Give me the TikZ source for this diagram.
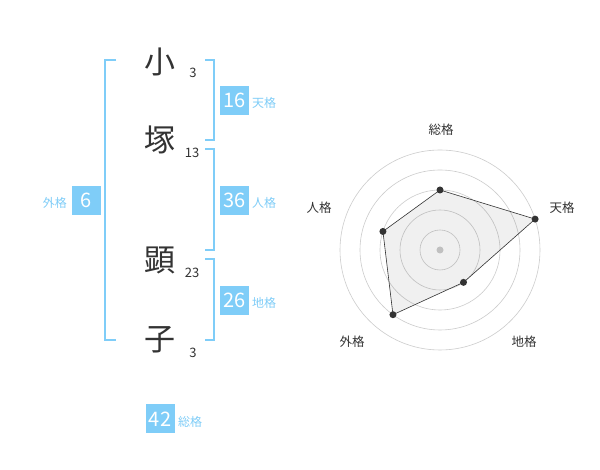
\documentclass[tikz,border=0pt]{standalone}
\usepackage{fontspec}
\setmainfont{Noto Sans CJK JP}
\usepackage{xcolor}
\usetikzlibrary{calc}

\definecolor{kakublue}{HTML}{7FCDF8}
\definecolor{inkgray}{HTML}{333333}
\definecolor{ringgray}{HTML}{CCCCCC}

\tikzset{
  kanji/.style={text=inkgray,font=\fontsize{31}{31}\selectfont,inner sep=0pt},
  kakusu/.style={text=inkgray,font=\fontsize{13}{13}\selectfont,inner sep=0pt},
  kakubox/.style={fill=kakublue,text=white,minimum size=29pt,inner sep=0pt,font=\fontsize{20}{20}\selectfont},
  kakuname/.style={text=kakublue,font=\fontsize{12}{12}\selectfont,inner sep=0pt},
  bracket/.style={draw=kakublue,line width=1.6pt},
  ring/.style={draw=ringgray,line width=0.6pt},
  radarname/.style={text=inkgray,font=\fontsize{12.5}{12.5}\selectfont,inner sep=0pt},
  dot/.style={circle,fill=inkgray,minimum size=7pt,inner sep=0pt}
}

\begin{document}
\begin{tikzpicture}[x=1pt,y=1pt]
            \useasboundingbox[fill=white] (0,0) rectangle (600,470);

            % name
            \node[kanji] (k1) at (160,408) {小};
            \node[kanji] (k2) at (160,330) {塚};
            \node[kanji] (k3) at (160,210) {顕};
            \node[kanji] (k4) at (160,130) {子};
            \node[kakusu] (s1) at (193,397) {3};
            \node[kakusu] (s2) at (192,317) {13};
            \node[kakusu] (s3) at (192,197) {23};
            \node[kakusu] (s4) at (193,117) {3};

            % brackets
            \coordinate (lt) at (116,410);
            \coordinate (lb) at (116,130);
            \draw[bracket] (lt) -- ++(-11,0) |- (lb);
            \coordinate (tt) at (205,410);
            \coordinate (tb) at (205,330);
            \draw[bracket] (tt) -- ++(9,0) |- (tb);
            \coordinate (jt) at (205,321);
            \coordinate (jb) at (205,220);
            \draw[bracket] (jt) -- ++(9,0) |- (jb);
            \coordinate (ct) at (205,211);
            \coordinate (cb) at (205,130);
            \draw[bracket] (ct) -- ++(9,0) |- (cb);

            % kaku values
            \node[kakubox] (b16) at (234.5,369.5) {16};
            \node[kakuname,anchor=west] (n16) at (252,367) {天格};
            \node[kakubox] (b36) at (234.5,269.5) {36};
            \node[kakuname,anchor=west] (n36) at (252,267) {人格};
            \node[kakubox] (b26) at (234.5,169.5) {26};
            \node[kakuname,anchor=west] (n26) at (252,167) {地格};
            \node[kakubox] (b6) at (86.3,269.5) {6};
            \node[kakuname,anchor=east] (n6) at (67,267) {外格};
            \node[kakubox] (b42) at (160,51) {42};
            \node[kakuname,anchor=west] (n42) at (178,48) {総格};

            % radar
            \coordinate (rc) at (440,220);
            \foreach \r in {20,40,60,80,100}
              \draw[ring] (rc) circle[radius=\r pt];
            \fill[ringgray] (rc) circle[radius=3.5pt];

            \coordinate (p1) at ($(rc)+(90:60pt)$);
            \coordinate (p2) at ($(rc)+(18:100pt)$);
            \coordinate (p3) at ($(rc)+(-54:40pt)$);
            \coordinate (p4) at ($(rc)+(-126:80pt)$);
            \coordinate (p5) at ($(rc)+(162:60pt)$);
            \fill[black,fill opacity=0.06] (p1) -- (p2) -- (p3) -- (p4) -- (p5) -- cycle;
            \draw[inkgray,line width=0.6pt] (p1) -- (p2) -- (p3) -- (p4) -- (p5) -- cycle;
            \foreach \p in {p1,p2,p3,p4,p5}
              \node[dot] at (\p) {};

            \node[radarname] (r1) at (441,340) {総格};
            \node[radarname] (r2) at (562,262) {天格};
            \node[radarname] (r3) at (524,128) {地格};
            \node[radarname] (r4) at (352,128) {外格};
            \node[radarname] (r5) at (319,262) {人格};
          \end{tikzpicture}
\end{document}
